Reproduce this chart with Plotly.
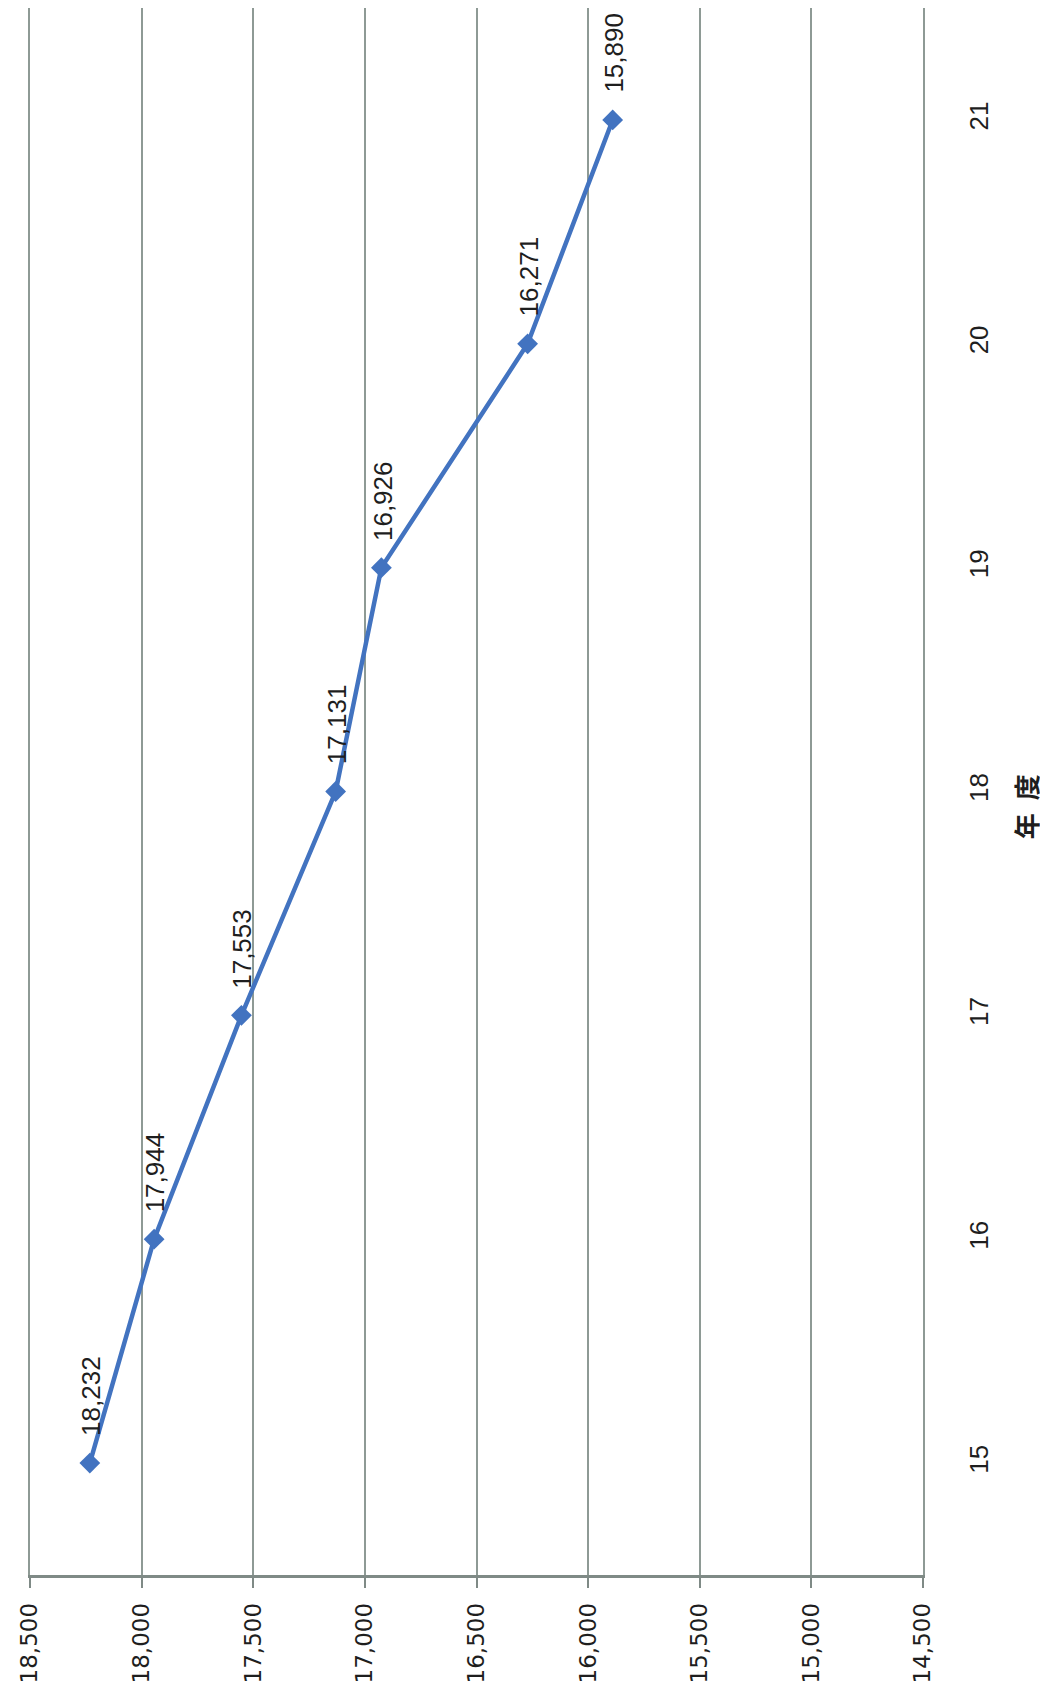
import plotly.graph_objects as go

years = [15, 16, 17, 18, 19, 20, 21]
year_labels = ["15", "16", "17", "18", "19", "20", "21"]
values = [18232, 17944, 17553, 17131, 16926, 16271, 15890]
value_ticks = [18500, 18000, 17500, 17000, 16500, 16000, 15500, 15000, 14500]
axis_title = "年\u2002度"

line_color = "#4273C0"
grid_color = "#8E9A95"
text_color = "#1E1E1E"

fig = go.Figure()
fig.add_trace(go.Scatter(
    x=values, y=years, mode="lines+markers",
    line=dict(color=line_color, width=4.5),
    marker=dict(symbol="diamond", size=16, color=line_color),
    showlegend=False, hoverinfo="skip",
))

for v, yr in zip(values, years):
    fig.add_annotation(
        x=v, y=yr, text=f"{v:,}", textangle=-90, showarrow=False,
        xanchor="center", yanchor="middle", xshift=1, yshift=67,
        font=dict(family="Liberation Sans, Arial, sans-serif", size=26, color=text_color),
    )

fig.add_annotation(
    xref="paper", yref="paper", x=1.0, y=0.49, xshift=102,
    text=axis_title, textangle=-90, showarrow=False,
    xanchor="center", yanchor="middle",
    font=dict(family="Noto Sans CJK JP", size=26, color=text_color, weight="bold"),
)

fig.update_xaxes(
    range=[value_ticks[0], value_ticks[-1]],
    tickvals=value_ticks, ticktext=[f"{t:,}" for t in value_ticks],
    tickangle=-90, showgrid=True, gridcolor=grid_color, gridwidth=1.5,
    showline=True, linecolor="#7F8A86", linewidth=2.5,
    ticks="outside", ticklen=10, tickcolor="#7F8A86", tickwidth=1.5,
    ticklabelstandoff=6,
    tickfont=dict(family="DejaVu Sans", size=23, color=text_color),
    zeroline=False,
)
fig.update_yaxes(
    range=[14.5, 21.5], tickvals=years, ticktext=year_labels,
    side="right", tickangle=-90, showgrid=False,
    showline=True, mirror=True, linecolor=grid_color, linewidth=1.5,
    zeroline=False, ticks="", ticklabelstandoff=32,
    tickfont=dict(family="Liberation Sans Narrow, Liberation Sans, Arial, sans-serif", size=26, color=text_color),
)

fig.update_layout(
    width=1048, height=1693,
    margin=dict(l=22, r=133, t=0, b=126),
    paper_bgcolor="white", plot_bgcolor="white",
)

fig.write_html("out.html")
